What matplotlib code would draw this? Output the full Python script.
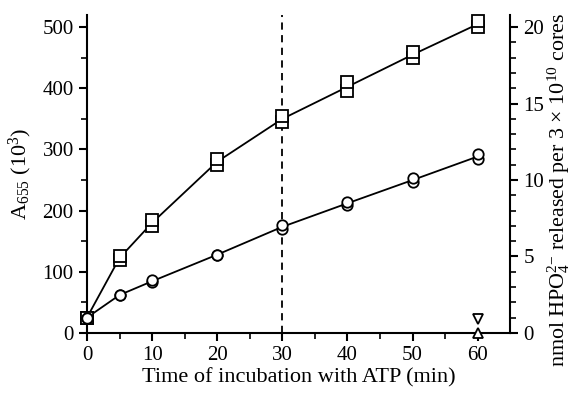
import matplotlib
matplotlib.use('Agg')
import matplotlib.pyplot as plt
import numpy as np

plt.rcParams['font.family'] = 'Liberation Serif'
plt.rcParams['mathtext.fontset'] = 'custom'
plt.rcParams['mathtext.rm'] = 'Liberation Serif'
plt.rcParams['mathtext.it'] = 'Liberation Serif:italic'

# time (min)
t = [0, 5, 10, 20, 30, 40, 50, 60]
# squares, two replicates
sq_a = [25, 120, 175, 275, 345, 395, 450, 500]
sq_b = [25, 125, 185, 285, 355, 410, 460, 510]
# circles, two replicates
ci_a = [25, 62, 83, 128, 170, 210, 247, 285]
ci_b = [25, 62, 86, 128, 177, 214, 253, 292]
# triangles at 60 min
tri_t = [60]
tri_down = [22]
tri_up = [0]

fig = plt.figure(figsize=(5.72, 3.94), dpi=100)
ax = fig.add_axes([0.152, 0.155, 0.74, 0.807])

sq_mean = (np.array(sq_a) + np.array(sq_b)) / 2
ci_mean = (np.array(ci_a) + np.array(ci_b)) / 2
ax.plot(t, sq_mean, color='black', lw=1.3)
ax.plot(t, ci_mean, color='black', lw=1.3)
mk = dict(ls='none', mfc='white', mec='black', mew=1.3, clip_on=False, zorder=3)
for y in (sq_a, sq_b):
    ax.plot(t, y, marker='s', ms=8, **mk)
for y in (ci_a, ci_b):
    ax.plot(t, y, marker='o', ms=7.5, **mk)
ax.plot(tri_t, tri_down, marker='v', ms=7, **mk)
ax.plot(tri_t, tri_up, marker='^', ms=7, **mk)

ax.axvline(30, color='black', lw=1.3, ls=(0, (4, 3)))

ax.set_xlim(0, 65)
ax.set_ylim(0, 520)
ax.set_xticks([0, 10, 20, 30, 40, 50, 60])
ax.set_xticks(np.arange(5, 65, 10), minor=True)
ax.set_yticks([0, 100, 200, 300, 400, 500])
ax.set_yticks(np.arange(50, 520, 100), minor=True)
ax.spines['top'].set_visible(False)
ax.spines['right'].set_visible(False)
for s in ('left', 'bottom'):
    ax.spines[s].set_linewidth(1.5)
ax.tick_params(which='major', length=6, width=1.5, labelsize=15, direction='out')
ax.tick_params(which='minor', length=4, width=1.2, direction='out')
ax.set_xlabel('Time of incubation with ATP (min)', fontsize=16, labelpad=2)
ax.set_ylabel('A$_{655}$ (10$^3$)', fontsize=16, labelpad=6)

ax2 = ax.twinx()
ax2.set_ylim(0, 520 / 25)
ax2.set_yticks([0, 5, 10, 15, 20])
ax2.set_yticks(np.arange(1, 21, 1), minor=True)
for s in ('top', 'left', 'bottom'):
    ax2.spines[s].set_visible(False)
ax2.spines['right'].set_linewidth(1.5)
ax2.tick_params(which='major', length=6, width=1.5, labelsize=15, direction='out')
ax2.tick_params(which='minor', length=4, width=1.2, direction='out')

fig.text(0.977, 0.518,
         'nmol HPO$_4^{2\\mathrm{-}}$ released per 3 $\\times$ 10$^{10}$ cores',
         fontsize=15.8, rotation=90, ha='center', va='center')

fig.savefig('out.png', dpi=100)
